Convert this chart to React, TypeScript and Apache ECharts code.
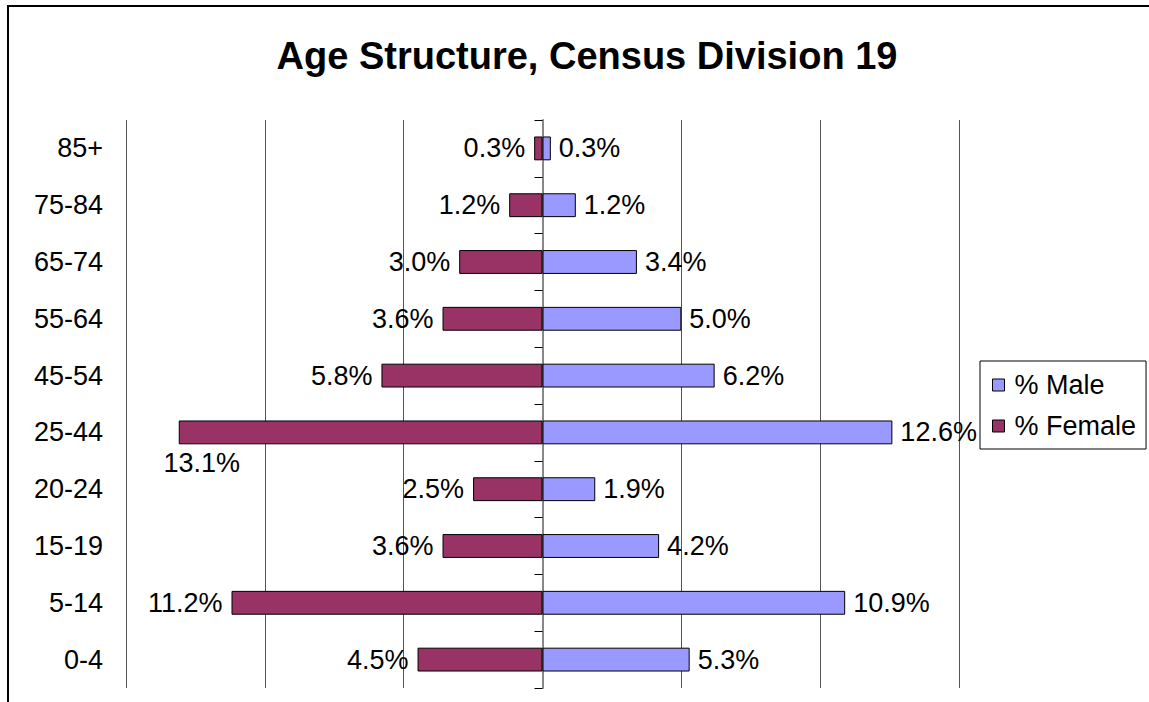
import React, { useEffect, useRef } from 'react';
import * as echarts from 'echarts';

const titleText = 'Age Structure, Census Division 19';
const categories = ['0-4', '5-14', '15-19', '20-24', '25-44', '45-54', '55-64', '65-74', '75-84', '85+'];
const maleValues = [5.3, 10.9, 4.2, 1.9, 12.6, 6.2, 5.0, 3.4, 1.2, 0.3];
const femaleValues = [4.5, 11.2, 3.6, 2.5, 13.1, 5.8, 3.6, 3.0, 1.2, 0.3];
const seriesNames = ['% Male', '% Female'];
const xMin = -15;
const xMax = 15;
const xInterval = 5;

const FONT = 'Arial, "Liberation Sans", sans-serif';

export default function App() {
  const ref = useRef<HTMLDivElement>(null);

  useEffect(() => {
    document.body.style.margin = '0';
    if (!ref.current) return;
    const chart = echarts.init(ref.current, undefined, { renderer: 'svg' });

    const lowLabelIdx = categories.indexOf('25-44');
    const femaleData = femaleValues.map((v, i) =>
      i === lowLabelIdx
        ? {
            value: -v,
            label: { position: [23, 43], align: 'center', verticalAlign: 'middle' },
          }
        : -v
    );

    const labelText = { fontSize: 27, fontFamily: FONT, color: '#000' };

    chart.setOption({
      animation: false,
      backgroundColor: '#fff',
      title: {
        text: titleText,
        left: 582,
        top: 32,
        textAlign: 'center',
        textStyle: { fontSize: 38, fontWeight: 'bold', fontFamily: FONT, color: '#000' },
      },
      graphic: [
        {
          type: 'rect',
          shape: { x: 8, y: 6, width: 1160, height: 760 },
          style: { fill: 'none', stroke: '#000', lineWidth: 2 },
          silent: true,
          z: 100,
        },
      ],
      legend: {
        data: seriesNames,
        orient: 'vertical',
        left: 980,
        top: 361,
        padding: [9, 10, 8, 12],
        itemGap: 11,
        itemWidth: 12,
        itemHeight: 12,
        icon: 'rect',
        borderColor: '#000',
        borderWidth: 1,
        itemStyle: { borderColor: '#000', borderWidth: 1 },
        textStyle: { fontSize: 27, fontFamily: FONT, color: '#000', padding: [0, 0, 0, 5], lineHeight: 30 },
      },
      grid: { left: 126, right: 190, top: 120, bottom: 14, containLabel: false },
      xAxis: {
        type: 'value',
        min: xMin,
        max: xMax,
        interval: xInterval,
        axisLabel: { show: false },
        axisLine: { show: false },
        axisTick: { show: false },
        splitLine: { show: true, lineStyle: { color: '#555', width: 1 } },
      },
      yAxis: [
        {
          type: 'category',
          data: categories,
          position: 'left',
          axisLine: { show: false, onZero: false },
          axisTick: { show: false },
          axisLabel: { fontSize: 27, fontFamily: FONT, color: '#000', margin: 23 },
          splitLine: { show: false },
        },
        {
          type: 'category',
          data: categories,
          position: 'left',
          axisLine: { show: true, onZero: true, lineStyle: { color: '#888', width: 2 } },
          axisTick: { show: true, length: 8, inside: false, lineStyle: { color: '#000', width: 1 } },
          axisLabel: { show: false },
          splitLine: { show: false },
        },
      ],
      series: [
        {
          name: seriesNames[0],
          type: 'bar',
          stack: 'pyramid',
          yAxisIndex: 0,
          barWidth: '42%',
          data: maleValues,
          itemStyle: { color: '#9999FF', borderColor: '#000', borderWidth: 1 },
          label: {
            show: true,
            position: 'right',
            distance: 8,
            ...labelText,
            formatter: (p: any) => `${Math.abs(p.value).toFixed(1)}%`,
          },
        },
        {
          name: seriesNames[1],
          type: 'bar',
          stack: 'pyramid',
          yAxisIndex: 0,
          barWidth: '42%',
          data: femaleData,
          itemStyle: { color: '#993366', borderColor: '#000', borderWidth: 1 },
          label: {
            show: true,
            position: 'left',
            distance: 9,
            ...labelText,
            formatter: (p: any) => `${Math.abs(p.value).toFixed(1)}%`,
          },
        },
      ],
    });

    return () => chart.dispose();
  }, []);

  return <div ref={ref} style={{ width: 1149, height: 702 }} />;
}
